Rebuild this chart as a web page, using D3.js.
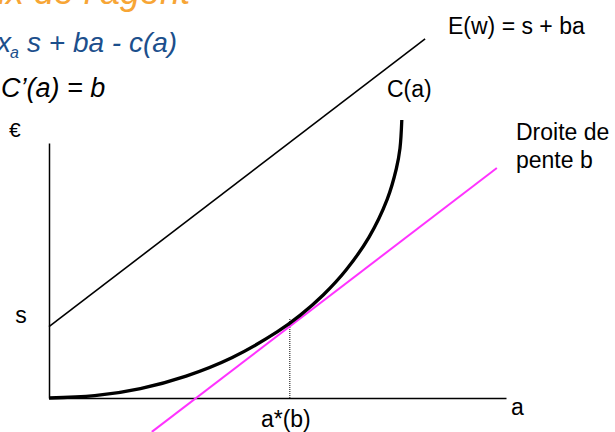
<!DOCTYPE html>
<html>
<head>
<meta charset="utf-8">
<script src="https://cdn.jsdelivr.net/npm/d3@7"></script>
<style>
  html, body { margin: 0; padding: 0; background: #fff; }
  svg { display: block; font-family: "Liberation Sans", Arial, sans-serif; }
</style>
</head>
<body>
<svg id="chart" width="615" height="432"></svg>
<script>
// ── Data (abstract units 0..100) ────────────────────────────────────────────
const aDomain = [0, 100];
const euroDomain = [0, 100];

// cost curve C(a)
const costA = [0, 10, 20, 30, 40, 50, 55, 60, 65, 70, 74, 76, 76.8, 77.2];
const costC = [0, 0.9, 3.7, 8.6, 15.8, 26, 32.5, 40.4, 50.2, 63, 77.9, 89.9, 97.9, 109];

// expected wage E(w) = s + ba
const wageA = [0, 82.3];
const wageE = [28, 140.8];

// line of slope b, tangent to C(a)
const slopeA = [22.5, 98];
const slopeE = [-13.3, 90.2];

// optimum a*(b)
const aStar = 52.7;
const cStar = 31;
const sValue = 28;

// ── Scales ──────────────────────────────────────────────────────────────────
const svg = d3.select('#chart');
const x = d3.scaleLinear().domain(aDomain).range([49, 506]);
const y = d3.scaleLinear().domain(euroDomain).range([398, 143]);

const line = d3.line()
  .x(function (d) { return x(d[0]); })
  .y(function (d) { return y(d[1]); });

// ── Axes (no ticks, just the domain lines) ──────────────────────────────────
svg.append('g')
  .attr('transform', `translate(0,${y(0)})`)
  .call(d3.axisBottom(x).tickValues([]).tickSizeOuter(0))
  .select('.domain').attr('stroke', '#000').attr('stroke-width', 1.5);

svg.append('g')
  .attr('transform', `translate(${x(0)},0)`)
  .call(d3.axisLeft(y).tickValues([]).tickSizeOuter(0))
  .select('.domain').attr('stroke', '#000').attr('stroke-width', 1.5);

// ── Marks ───────────────────────────────────────────────────────────────────
// dotted drop line at a*
svg.append('path')
  .attr('d', line([[aStar, 0], [aStar, cStar]]))
  .attr('fill', 'none')
  .attr('stroke', '#000')
  .attr('stroke-width', 1)
  .attr('stroke-dasharray', '1,1');

// E(w) line
svg.append('path')
  .attr('d', line(d3.zip(wageA, wageE)))
  .attr('fill', 'none')
  .attr('stroke', '#000')
  .attr('stroke-width', 1.6);

// tangent line, slope b
svg.append('path')
  .attr('d', line(d3.zip(slopeA, slopeE)))
  .attr('fill', 'none')
  .attr('stroke', '#ff33ff')
  .attr('stroke-width', 2);

// cost curve
svg.append('path')
  .attr('d', line.curve(d3.curveCatmullRom.alpha(0.5))(d3.zip(costA, costC)))
  .attr('fill', 'none')
  .attr('stroke', '#000')
  .attr('stroke-width', 3.3);

// ── Labels ──────────────────────────────────────────────────────────────────
const labels = svg.append('g').attr('font-size', 23).attr('fill', '#000');

labels.append('text').attr('x', 9).attr('y', 137).attr('font-size', 21).text('€');
labels.append('text').attr('x', 21).attr('y', y(sValue) - 4)
  .attr('text-anchor', 'middle').text('s');
labels.append('text').attr('x', x(100) + 5).attr('y', 415).text('a');
labels.append('text').attr('x', x(aStar) - 4).attr('y', 427)
  .attr('text-anchor', 'middle').text('a*(b)');
labels.append('text').attr('x', 448).attr('y', 34).text('E(w) = s + ba');
labels.append('text').attr('x', 387).attr('y', 97).text('C(a)');
labels.append('text').attr('x', 516).attr('y', 140).text('Droite de');
labels.append('text').attr('x', 516).attr('y', 168).text('pente b');

// ── Slide text (partly cut off on the left / top, as in the original) ──────
const head = svg.append('g').attr('font-style', 'italic');

head.append('text').attr('x', 6).attr('y', 4)
  .attr('text-anchor', 'end').attr('font-size', 36).attr('fill', '#f7a535')
  .text('Choi');
head.append('text').attr('x', 6).attr('y', 4)
  .attr('font-size', 36).attr('fill', '#f7a535')
  .text('x de l’agent');

head.append('text').attr('x', 11).attr('y', 52)
  .attr('text-anchor', 'end').attr('font-size', 28).attr('fill', '#1c4f8c')
  .text('Max');
head.append('text').attr('x', 10).attr('y', 58)
  .attr('font-size', 16).attr('fill', '#1c4f8c')
  .text('a');
head.append('text').attr('x', 27).attr('y', 52)
  .attr('font-size', 28).attr('fill', '#1c4f8c')
  .text('s + ba - c(a)');

head.append('text').attr('x', 1).attr('y', 97)
  .attr('font-size', 27).attr('fill', '#000')
  .text('C’(a) = b');
</script>
</body>
</html>
